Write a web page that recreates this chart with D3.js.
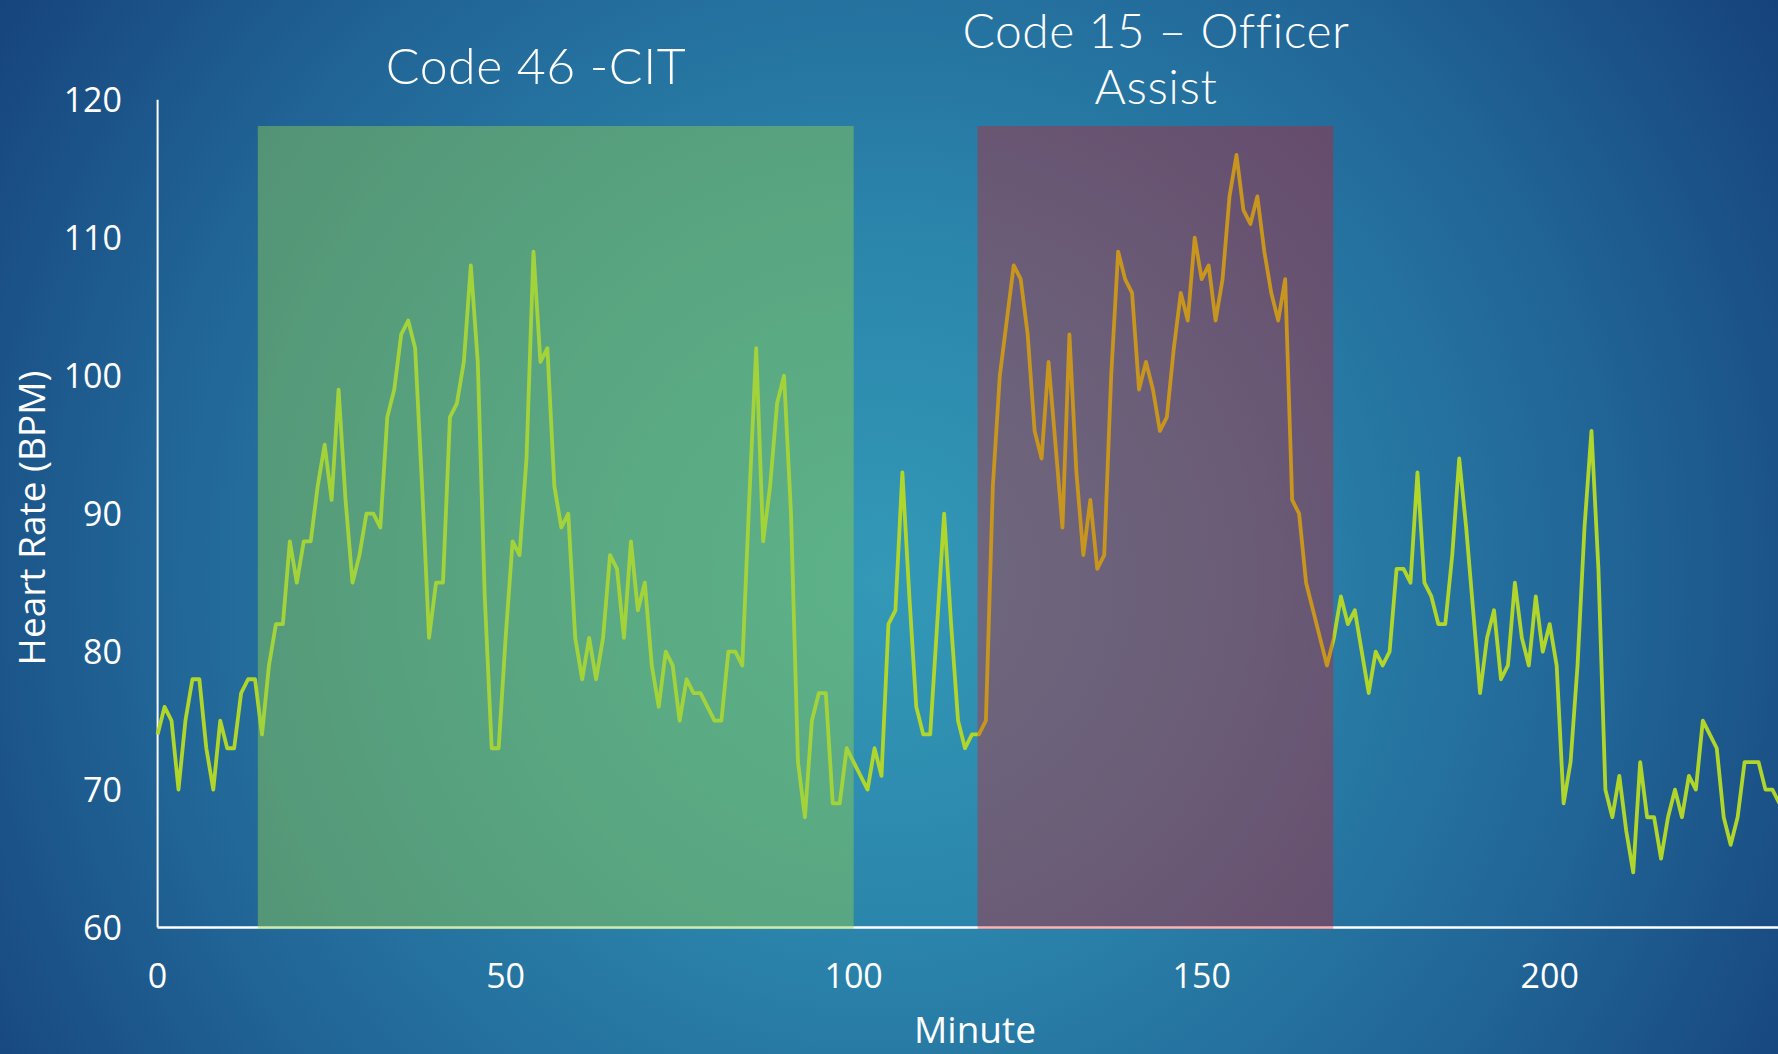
<!DOCTYPE html>
<html>
<head>
<meta charset="utf-8">
<script src="https://cdn.jsdelivr.net/npm/d3@7/dist/d3.min.js"></script>
<style>
  html, body { margin: 0; padding: 0; background: #1b5a8c; }
  svg { display: block; }
</style>
</head>
<body>
<script>
// Heart rate by minute over one shift
const minutes = d3.range(0, 234);
const heartRate = [
  74, 76, 75, 70, 75, 78, 78, 73, 70, 75,   // 0-9
  73, 73, 77, 78, 78, 74, 79, 82, 82, 88,   // 10-19
  85, 88, 88, 92, 95, 91, 99, 91, 85, 87,   // 20-29
  90, 90, 89, 97, 99, 103, 104, 102, 92, 81, // 30-39
  85, 85, 97, 98, 101, 108, 101, 84, 73, 73, // 40-49
  81, 88, 87, 94, 109, 101, 102, 92, 89, 90, // 50-59
  81, 78, 81, 78, 81, 87, 86, 81, 88, 83,   // 60-69
  85, 79, 76, 80, 79, 75, 78, 77, 77, 76,   // 70-79
  75, 75, 80, 80, 79, 91, 102, 88, 92, 98,  // 80-89
  100, 90, 72, 68, 75, 77, 77, 69, 69, 73,  // 90-99
  72, 71, 70, 73, 71, 82, 83, 93, 84, 76,   // 100-109
  74, 74, 82, 90, 82, 75, 73, 74, 74, 75,   // 110-119
  92, 100, 104, 108, 107, 103, 96, 94, 101, 95, // 120-129
  89, 103, 93, 87, 91, 86, 87, 100, 109, 107,   // 130-139
  106, 99, 101, 99, 96, 97, 102, 106, 104, 110, // 140-149
  107, 108, 104, 107, 113, 116, 112, 111, 113, 109, // 150-159
  106, 104, 107, 91, 90, 85, 83, 81, 79, 81,  // 160-169
  84, 82, 83, 80, 77, 80, 79, 80, 86, 86,     // 170-179
  85, 93, 85, 84, 82, 82, 87, 94, 89, 83,     // 180-189
  77, 81, 83, 78, 79, 85, 81, 79, 84, 80,     // 190-199
  82, 79, 69, 72, 79, 89, 96, 86, 70, 68,     // 200-209
  71, 67, 64, 72, 68, 68, 65, 68, 70, 68,     // 210-219
  71, 70, 75, 74, 73, 68, 66, 68, 72, 72,     // 220-229
  72, 70, 70, 69                              // 230-233
];

// Call periods (minute ranges) shaded over the trace
const periodNames = ["Code 46 -CIT", "Code 15 – Officer Assist"];
const periodStart = [14.4, 117.8];
const periodEnd = [100, 168.9];
const periodTop = 118.1;

const xTicks = [0, 50, 100, 150, 200];
const yTicks = [60, 70, 80, 90, 100, 110, 120];

const W = 1778, H = 1054;
const svg = d3.select("body").append("svg")
  .attr("width", W).attr("height", H)
  .attr("viewBox", `0 0 ${W} ${H}`);

// Background: radial teal-to-navy wash
const defs = svg.append("defs");
const bg = defs.append("radialGradient")
  .attr("id", "bg")
  .attr("gradientUnits", "userSpaceOnUse")
  .attr("cx", 880).attr("cy", 580).attr("r", 1120);
[[0, "#3399b7"], [0.3, "#2b86ac"], [0.65, "#216597"], [1, "#143d76"]]
  .forEach(([o, c]) => bg.append("stop").attr("offset", o).attr("stop-color", c));
svg.append("rect").attr("width", W).attr("height", H).attr("fill", "url(#bg)");

const x = d3.scaleLinear().domain([0, 232.8]).range([157.6, 1778]);
const y = d3.scaleLinear().domain([60, 120]).range([927.6, 99.8]);

const tickFont = "'Open Sans', 'Segoe UI', sans-serif";

// Axis lines
svg.append("line")
  .attr("x1", x(0)).attr("x2", x(0))
  .attr("y1", y(120)).attr("y2", y(60))
  .attr("stroke", "#ffffff").attr("stroke-width", 2);
svg.append("line")
  .attr("x1", x(0)).attr("x2", W)
  .attr("y1", y(60)).attr("y2", y(60))
  .attr("stroke", "#ffffff").attr("stroke-width", 2.5);

// Tick labels
svg.append("g").selectAll("text").data(yTicks).join("text")
  .attr("x", 122).attr("y", d => y(d))
  .attr("dy", "0.35em")
  .attr("text-anchor", "end")
  .attr("fill", "#ffffff")
  .attr("font-family", tickFont).attr("font-size", 34)
  .text(d => d);
svg.append("g").selectAll("text").data(xTicks).join("text")
  .attr("x", d => x(d)).attr("y", 988)
  .attr("text-anchor", "middle")
  .attr("fill", "#ffffff")
  .attr("font-family", tickFont).attr("font-size", 34)
  .text(d => d);

// Axis titles
svg.append("text")
  .attr("x", 975).attr("y", 1043)
  .attr("text-anchor", "middle")
  .attr("fill", "#ffffff")
  .attr("font-family", tickFont).attr("font-size", 37)
  .text("Minute");
svg.append("text")
  .attr("transform", "translate(45,518) rotate(-90)")
  .attr("text-anchor", "middle")
  .attr("fill", "#ffffff")
  .attr("font-family", tickFont).attr("font-size", 37)
  .text("Heart Rate (BPM)");

// Heart-rate trace
const line = d3.line()
  .x((d, i) => x(minutes[i]))
  .y(d => y(d));
svg.append("path")
  .datum(heartRate)
  .attr("d", line)
  .attr("fill", "none")
  .attr("stroke", "#b0d62b")
  .attr("stroke-width", 3.8)
  .attr("stroke-linejoin", "round");

// Translucent period overlays drawn over the trace
const periodFill = ["#92d050", "#ff0000"];
const periodOpacity = [0.45, 0.3];
svg.append("g").selectAll("rect").data(periodStart).join("rect")
  .attr("x", (d, i) => x(d))
  .attr("width", (d, i) => x(periodEnd[i]) - x(d))
  .attr("y", y(periodTop))
  .attr("height", y(60) - y(periodTop) + 1.5)
  .attr("fill", (d, i) => periodFill[i])
  .attr("fill-opacity", (d, i) => periodOpacity[i]);

// Period titles
const titleFont = "Lato, 'Open Sans', sans-serif";
svg.append("text")
  .attr("x", 536).attr("y", 84)
  .attr("text-anchor", "middle")
  .attr("fill", "#ffffff")
  .attr("font-family", titleFont).attr("font-size", 50)
  .attr("font-weight", 300)
  .attr("letter-spacing", 0.5)
  .text(periodNames[0]);
const t2 = svg.append("text")
  .attr("text-anchor", "middle")
  .attr("fill", "#ffffff")
  .attr("font-family", titleFont).attr("font-size", 48)
  .attr("font-weight", 300)
  .attr("letter-spacing", 0.5);
t2.append("tspan").attr("x", 1156).attr("y", 48).text("Code 15 – Officer");
t2.append("tspan").attr("x", 1156).attr("y", 104).text("Assist");
</script>
</body>
</html>
